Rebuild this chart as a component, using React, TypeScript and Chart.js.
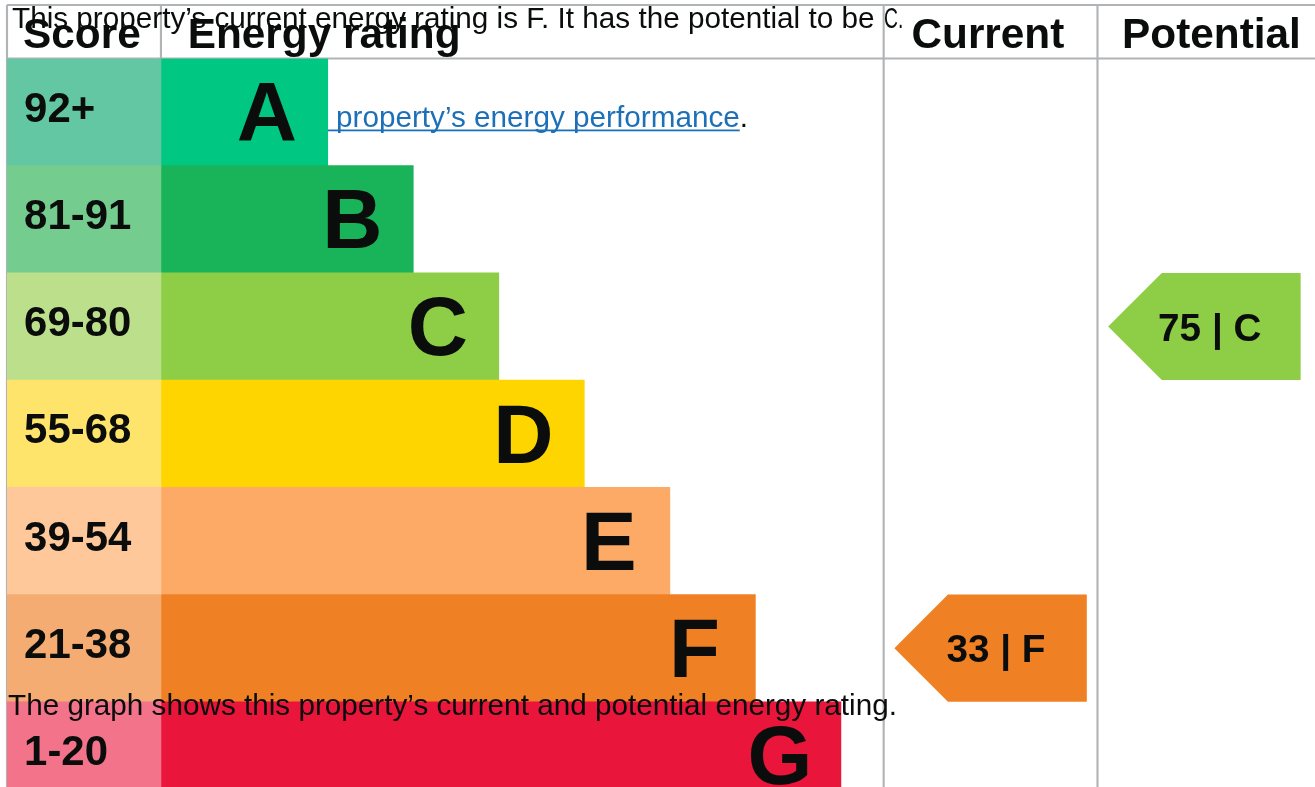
import React, { useEffect, useRef } from "react";
import { Chart, registerables } from "chart.js";

Chart.register(...registerables);

// ---- data ----
const bands = ["A", "B", "C", "D", "E", "F", "G"];
const scoreRanges = ["92+", "81-91", "69-80", "55-68", "39-54", "21-38", "1-20"];
// bar ends in table units (score column spans 0..72)
const bandEnds = [150, 190, 230, 270, 310, 350, 390];
const bandColours = ["#00c781", "#19b459", "#8dce46", "#ffd500", "#fcaa65", "#ef8023", "#e9153b"];
const scoreColours = ["#64c7a4", "#74cc8e", "#bbdf8b", "#ffe46b", "#fec89b", "#f4ac72", "#f2738a"];
const columnHeaders = ["Score", "Energy rating", "Current", "Potential"];
const columnStarts = [0, 72, 410, 510];
const tableWidth = 615;
const tableHeight = 376;
const headerHeight = 25;
const arrowWidth = 90;
const currentScore = 33;
const currentBand = "F";
const potentialScore = 75;
const potentialBand = "C";
const captionText = "This property\u2019s current energy rating is F. It has the potential to be";
const captionTail = "C.";
const summaryText = "The graph shows this property\u2019s current and potential energy rating.";
const linkText = "how to improve this property\u2019s energy performance";

const FONT = '"Liberation Sans", Arial, Helvetica, sans-serif';
const INK = "#0b0c0c";
const GRID = "#b1b4b6";
const CANVAS_W = 1322;
const CANVAS_H = 809;
const PAD_LEFT = 7;
const PAD_TOP_BASE = 5;
const UNIT = (CANVAS_W - PAD_LEFT) / tableWidth;

const epcPlugin = {
  id: "epc",
  beforeDatasetsDraw(chart: any) {
    const { ctx, chartArea, scales } = chart;
    const x = scales.x;
    const u = x.getPixelForValue(1) - x.getPixelForValue(0);
    const top = chartArea.top - headerHeight * u;
    const bottom = top + tableHeight * u;
    const left = x.getPixelForValue(0);
    const right = x.getPixelForValue(tableWidth);
    ctx.save();
    ctx.strokeStyle = GRID;
    ctx.lineWidth = u;
    ctx.beginPath();
    ctx.moveTo(left, top);
    ctx.lineTo(right, top);
    ctx.moveTo(left, chartArea.top);
    ctx.lineTo(right, chartArea.top);
    columnStarts.forEach((c) => {
      const px = x.getPixelForValue(c);
      ctx.moveTo(px, top);
      ctx.lineTo(px, bottom);
    });
    ctx.stroke();

    // link paragraph (partly hidden behind bars)
    ctx.font = `29.7px ${FONT}`;
    ctx.textBaseline = "alphabetic";
    const dotW = ctx.measureText(".").width;
    const linkEnd = 748 - dotW;
    const linkW = ctx.measureText(linkText).width;
    ctx.fillStyle = "#1d70b8";
    ctx.textAlign = "left";
    ctx.fillText(linkText, linkEnd - linkW, 127);
    ctx.fillRect(linkEnd - linkW, 129.5, linkW, 1.8);
    ctx.fillStyle = INK;
    ctx.fillText(".", linkEnd, 127);
    ctx.restore();
  },
  afterDatasetsDraw(chart: any) {
    const { ctx, chartArea, scales } = chart;
    const x = scales.x;
    const y = scales.y;
    const u = x.getPixelForValue(1) - x.getPixelForValue(0);
    const rowH = y.getPixelForValue(1) - y.getPixelForValue(0);
    const top = chartArea.top - headerHeight * u;
    ctx.save();
    ctx.fillStyle = INK;
    ctx.textBaseline = "alphabetic";

    // headers
    ctx.font = `bold ${19.8 * u}px ${FONT}`;
    ctx.textAlign = "left";
    const headerOffsets = [7.5, 84.5, 423, 521.5];
    columnHeaders.forEach((h, i) => {
      ctx.fillText(h, x.getPixelForValue(headerOffsets[i]), top + 20.1 * u);
    });

    // score labels & band letters
    bands.forEach((b, i) => {
      const rowTop = y.getPixelForValue(i) - rowH / 2;
      ctx.font = `bold ${19.6 * u}px ${FONT}`;
      ctx.textAlign = "left";
      ctx.fillText(scoreRanges[i], x.getPixelForValue(8), rowTop + 29.6 * u);
      ctx.font = `bold ${39 * u}px ${FONT}`;
      ctx.textAlign = "center";
      ctx.fillText(b, x.getPixelForValue(bandEnds[i] - 28.5), rowTop + 38.6 * u);
    });

    // arrows
    const drawArrow = (score: number, band: string, colStart: number) => {
      const i = bands.indexOf(band);
      const cy = y.getPixelForValue(i);
      const rTop = cy - rowH / 2;
      const rBot = cy + rowH / 2;
      const tip = x.getPixelForValue(colStart + 5);
      const notch = tip + rowH / 2;
      const end = x.getPixelForValue(colStart + 5 + arrowWidth);
      ctx.fillStyle = bandColours[i];
      ctx.beginPath();
      ctx.moveTo(tip, cy);
      ctx.lineTo(notch, rTop);
      ctx.lineTo(end, rTop);
      ctx.lineTo(end, rBot);
      ctx.lineTo(notch, rBot);
      ctx.closePath();
      ctx.fill();
      ctx.fillStyle = INK;
      ctx.font = `bold ${18.1 * u}px ${FONT}`;
      ctx.textAlign = "center";
      ctx.fillText(`${score} | ${band}`, x.getPixelForValue(colStart + 5 + 47.5), rTop + 31.7 * u);
    };
    drawArrow(currentScore, currentBand, columnStarts[2]);
    drawArrow(potentialScore, potentialBand, columnStarts[3]);

    // overlapping paragraphs
    ctx.fillStyle = INK;
    ctx.font = `29.7px ${FONT}`;
    ctx.textAlign = "left";
    ctx.fillText(captionText, 12, 28);
    ctx.save();
    ctx.translate(884, 28);
    ctx.scale(0.65, 1);
    ctx.fillText(captionTail, 0, 0);
    ctx.restore();
    ctx.fillText(summaryText, 8, 715);
    ctx.restore();
  },
};

export default function App() {
  const canvasRef = useRef<HTMLCanvasElement | null>(null);

  useEffect(() => {
    const canvas = canvasRef.current;
    if (!canvas) return;
    const chart = new Chart(canvas, {
      type: "bar",
      data: {
        labels: bands,
        datasets: [
          {
            label: "Score",
            data: bands.map(() => [columnStarts[0], columnStarts[1]]) as any,
            backgroundColor: scoreColours,
            borderWidth: 0,
            grouped: false,
            barPercentage: 1,
            categoryPercentage: 1,
          } as any,
          {
            label: "Energy rating",
            data: bandEnds.map((e) => [columnStarts[1], e]) as any,
            backgroundColor: bandColours,
            borderWidth: 0,
            grouped: false,
            barPercentage: 1,
            categoryPercentage: 1,
          } as any,
        ],
      },
      options: {
        indexAxis: "y",
        responsive: false,
        animation: false,
        devicePixelRatio: 1,
        layout: {
          padding: { left: PAD_LEFT, top: PAD_TOP_BASE + headerHeight * UNIT, right: 0, bottom: 0 },
        },
        plugins: {
          legend: { display: false },
          tooltip: { enabled: false },
        },
        scales: {
          x: { type: "linear", min: 0, max: tableWidth, display: false },
          y: { type: "category", display: false, offset: true },
        },
      },
      plugins: [epcPlugin],
    });
    return () => chart.destroy();
  }, []);

  return (
    <div
      style={{
        position: "absolute",
        left: 0,
        top: 0,
        width: 1315,
        height: 787,
        overflow: "hidden",
        background: "#fff",
      }}
    >
      <canvas ref={canvasRef} width={CANVAS_W} height={CANVAS_H} style={{ display: "block" }} />
    </div>
  );
}
